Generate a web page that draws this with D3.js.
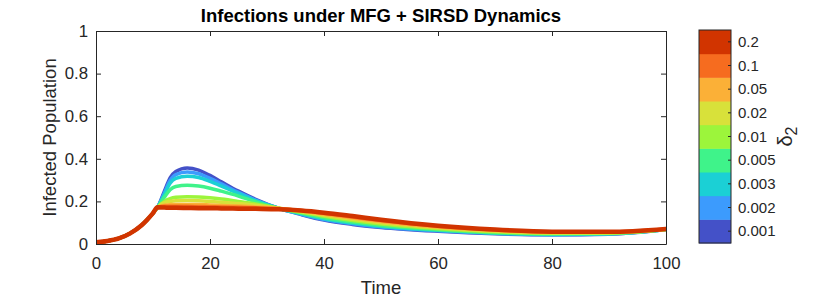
<!DOCTYPE html>
<html>
<head>
<meta charset="utf-8">
<script src="https://cdn.jsdelivr.net/npm/d3@7"></script>
<style>
  body { margin: 0; background: #fff; }
  svg { font-family: "Liberation Sans", Arial, sans-serif; }
</style>
</head>
<body>
<svg id="chart" width="840" height="300"></svg>
<script>
// time grid (shared by all curves)
const times = [0, 2, 4, 6, 8, 10, 10.8, 12, 13, 14, 16, 18, 20, 22, 25, 28, 32, 36, 40, 45, 50, 60, 70, 80, 90, 100];

// growth phase common to every curve
const commonStart = [0.008, 0.014, 0.026, 0.05, 0.088, 0.145, 0.172];

// delta_2 values, one curve each
const deltas = ["0.001", "0.002", "0.003", "0.005", "0.01", "0.02", "0.05", "0.1", "0.2"];
const colors = ["#4451c8", "#3c9bfd", "#1bd0d5", "#3ff38a", "#9cf53b", "#d8e13a", "#fbb037", "#f66c1f", "#d13400"];

// infected values after the kink (t = 12 ... 100)
const infected_0001 = [0.248, 0.31, 0.34, 0.357, 0.347, 0.322, 0.292, 0.248, 0.21, 0.168, 0.138, 0.112, 0.092, 0.078, 0.06, 0.048, 0.043, 0.046, 0.068];
const infected_0002 = [0.24, 0.298, 0.326, 0.338, 0.33, 0.308, 0.282, 0.242, 0.206, 0.168, 0.14, 0.115, 0.095, 0.08, 0.062, 0.05, 0.044, 0.047, 0.068];
const infected_0003 = [0.232, 0.285, 0.308, 0.318, 0.312, 0.294, 0.272, 0.236, 0.203, 0.168, 0.142, 0.118, 0.098, 0.083, 0.064, 0.051, 0.045, 0.048, 0.068];
const infected_0005 = [0.22, 0.255, 0.27, 0.276, 0.272, 0.262, 0.248, 0.225, 0.198, 0.168, 0.145, 0.123, 0.103, 0.087, 0.067, 0.053, 0.047, 0.049, 0.068];
const infected_001 = [0.2, 0.213, 0.219, 0.222, 0.221, 0.217, 0.211, 0.2, 0.188, 0.168, 0.149, 0.13, 0.11, 0.094, 0.072, 0.057, 0.05, 0.051, 0.068];
const infected_002 = [0.194, 0.2, 0.203, 0.204, 0.203, 0.2, 0.196, 0.19, 0.182, 0.168, 0.152, 0.135, 0.116, 0.1, 0.076, 0.06, 0.052, 0.053, 0.068];
const infected_005 = [0.182, 0.185, 0.186, 0.186, 0.185, 0.183, 0.181, 0.178, 0.174, 0.168, 0.156, 0.14, 0.122, 0.106, 0.08, 0.064, 0.055, 0.055, 0.069];
const infected_01 = [0.177, 0.177, 0.177, 0.177, 0.176, 0.175, 0.174, 0.172, 0.17, 0.166, 0.157, 0.144, 0.127, 0.11, 0.083, 0.066, 0.057, 0.056, 0.07];
const infected_02 = [0.171, 0.17, 0.17, 0.169, 0.168, 0.168, 0.167, 0.166, 0.165, 0.163, 0.157, 0.147, 0.131, 0.114, 0.086, 0.068, 0.058, 0.057, 0.071];

const allInfected = [infected_0001, infected_0002, infected_0003, infected_0005, infected_001,
                     infected_002, infected_005, infected_01, infected_02];

const xTicks = [0, 20, 40, 60, 80, 100];
const yTicks = [0, 0.2, 0.4, 0.6, 0.8, 1];

// layout
const margin = { top: 31, left: 96 };
const plotW = 570, plotH = 213;
const axisColor = "#262626";
const tickLen = 5;

const svg = d3.select("#chart");
const g = svg.append("g").attr("transform", `translate(${margin.left}, ${margin.top})`);

const x = d3.scaleLinear().domain([0, 100]).range([0, plotW]);
const y = d3.scaleLinear().domain([0, 1]).range([plotH, 0]);

// curves
const line = d3.line()
    .x(d => x(d[0]))
    .y(d => y(d[1]))
    .curve(d3.curveMonotoneX);

g.append("clipPath").attr("id", "clip")
    .append("rect").attr("width", plotW).attr("height", plotH);

const curves = g.append("g").attr("clip-path", "url(#clip)");
allInfected.forEach((vals, i) => {
    const full = commonStart.concat(vals);
    const pts = times.map((t, k) => [t, full[k]]);
    curves.append("path")
        .attr("d", line(pts))
        .attr("fill", "none")
        .attr("stroke", colors[i])
        .attr("stroke-width", i === allInfected.length - 1 ? 4.5 : 3.5)
        .attr("stroke-linejoin", "round")
        .attr("stroke-linecap", "round");
});

// axes (MATLAB style, ticks inside, box on)
const xAxis = g.append("g")
    .attr("transform", `translate(0, ${plotH})`)
    .call(d3.axisBottom(x).tickValues(xTicks).tickSizeInner(-tickLen).tickSizeOuter(0).tickPadding(13));
const xAxisTop = g.append("g")
    .call(d3.axisTop(x).tickValues(xTicks).tickSizeInner(-tickLen).tickSizeOuter(0).tickFormat(""));
const yAxis = g.append("g")
    .call(d3.axisLeft(y).tickValues(yTicks).tickSizeInner(-tickLen).tickSizeOuter(0).tickPadding(8)
        .tickFormat(d => d3.format("~g")(d)));
const yAxisRight = g.append("g")
    .attr("transform", `translate(${plotW}, 0)`)
    .call(d3.axisRight(y).tickValues(yTicks).tickSizeInner(-tickLen).tickSizeOuter(0).tickFormat(""));

[xAxis, xAxisTop, yAxis, yAxisRight].forEach(a => {
    a.select(".domain").attr("stroke", axisColor).attr("stroke-width", 1);
    a.selectAll(".tick line").attr("stroke", axisColor);
    a.selectAll(".tick text")
        .attr("fill", axisColor)
        .style("font-size", "16.8px")
        .style("font-family", "Liberation Sans, Arial, sans-serif");
});

// title
svg.append("text")
    .attr("x", margin.left + plotW / 2)
    .attr("y", 22)
    .attr("text-anchor", "middle")
    .attr("fill", "#000")
    .style("font-size", "18.5px")
    .style("font-weight", "bold")
    .text("Infections under MFG + SIRSD Dynamics");

// axis labels
svg.append("text")
    .attr("x", margin.left + plotW / 2)
    .attr("y", 294)
    .attr("text-anchor", "middle")
    .attr("fill", axisColor)
    .style("font-size", "18.5px")
    .text("Time");

svg.append("text")
    .attr("transform", `translate(56, ${margin.top + plotH / 2}) rotate(-90)`)
    .attr("text-anchor", "middle")
    .attr("fill", axisColor)
    .style("font-size", "18.5px")
    .text("Infected Population");

// colorbar
const cb = { x: 699, y: 30, w: 32, h: 213 };
const cbScale = d3.scaleBand()
    .domain(deltas.slice().reverse())
    .range([cb.y, cb.y + cb.h])
    .padding(0);

const cbG = svg.append("g");
cbG.selectAll("rect.band")
    .data(deltas)
    .join("rect")
    .attr("class", "band")
    .attr("x", cb.x)
    .attr("y", d => cbScale(d))
    .attr("width", cb.w)
    .attr("height", cbScale.bandwidth() + 0.5)
    .attr("fill", (d, i) => colors[i]);

cbG.append("rect")
    .attr("x", cb.x)
    .attr("y", cb.y)
    .attr("width", cb.w)
    .attr("height", cb.h)
    .attr("fill", "none")
    .attr("stroke", axisColor)
    .attr("stroke-width", 1);

cbG.selectAll("line.cbtick")
    .data(deltas)
    .join("line")
    .attr("class", "cbtick")
    .attr("x1", cb.x + cb.w - 3)
    .attr("x2", cb.x + cb.w)
    .attr("y1", d => cbScale(d) + cbScale.bandwidth() / 2)
    .attr("y2", d => cbScale(d) + cbScale.bandwidth() / 2)
    .attr("stroke", axisColor);

cbG.selectAll("text.cblabel")
    .data(deltas)
    .join("text")
    .attr("class", "cblabel")
    .attr("x", cb.x + cb.w + 7)
    .attr("y", d => cbScale(d) + cbScale.bandwidth() / 2)
    .attr("dy", "0.35em")
    .attr("fill", axisColor)
    .style("font-size", "15px")
    .text(d => d);

const dl = svg.append("text")
    .attr("transform", `translate(792, ${cb.y + cb.h / 2}) rotate(-90)`)
    .attr("text-anchor", "middle")
    .attr("fill", axisColor)
    .style("font-size", "20px");
dl.append("tspan").text("δ");
dl.append("tspan").attr("dy", 5).style("font-size", "16px").text("2");
</script>
</body>
</html>
